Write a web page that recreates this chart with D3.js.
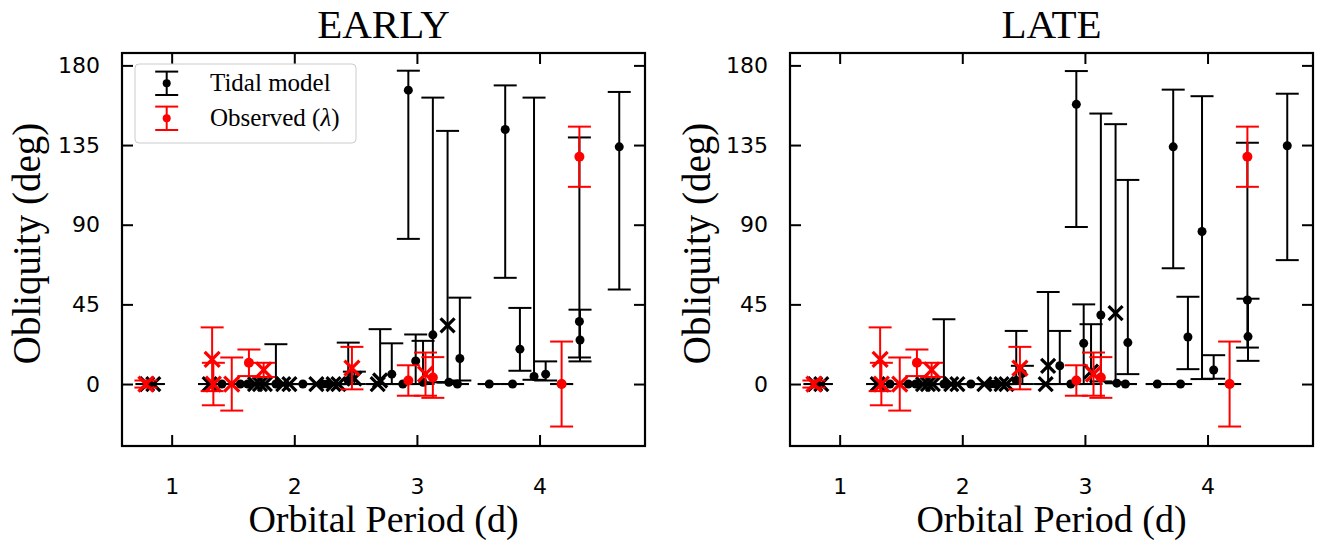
<!DOCTYPE html>
<html>
<head>
<meta charset="utf-8">
<script src="https://cdn.jsdelivr.net/npm/d3@7"></script>
<style>
  body { margin: 0; background: #fff; }
  .tick text { font-family: "DejaVu Sans", sans-serif; font-size: 22px; fill: #000; }
</style>
</head>
<body>
<svg width="1317" height="540"></svg>
<script>
// tidal model systems (orbital period in days), shared by both panels
var periods = [0.80, 0.85, 1.31, 1.41, 1.56, 1.62, 1.68, 1.72, 1.76, 1.85, 1.91, 1.96, 2.07, 2.18, 2.23, 2.27,
  2.32, 2.36, 2.44, 2.49, 2.68, 2.70, 2.795, 2.885, 2.93, 2.99, 3.05, 3.13, 3.25, 3.26, 3.33, 3.35, 3.59,
  3.72, 3.78, 3.84, 3.955, 4.05, 4.18, 4.325, 4.33, 4.65]

// EARLY panel: value, lower bound, upper bound, marker
var earlyVal = [0, 0, 0, 0, 0, 0, 0, 0, 0, 0, 0, 0, 0, 0, 0, 0, 0, 0, 2, 3, 0, 2, 5.6, 0, 166, 13, 1, 27.8, 33.2, 1, 0, 14.4, 0,
  143.8, 0, 19.7, 4.3, 5.6, 0, 35.3, 24.9, 134]
var earlyLo = [0, 0, 0, 0, 0, 0, 0, 0, 0, 0, 0, 0, 0, 0, 0, 0, 0, 0, 0, 0, 0, 0, 0, 0, 82, 0, 0, 1, 1, 1, 0, 2, 0,
  60, 0, 7.5, 2.4, 2, 0, 15, 12.8, 53.4]
var earlyHi = [0, 0, 0, 0, 0, 0, 0, 0, 0, 22.5, 0, 0, 0, 0, 0, 0, 0, 0, 23.4, 7, 0, 31, 23, 0, 177, 28, 24.4, 161.8, 143, 1, 0, 48.8, 0,
  168.7, 0, 43, 161.8, 12.8, 0, 139.3, 42, 165]
var earlyMark = ["x", "x", "x", "o", "o", "o", "x", "x", "x", "o", "x", "x", "o", "x", "o", "o", "x", "x", "o", "x", "x", "x", "o", "o",
  "o", "o", "o", "o", "x", "o", "o", "o", "o", "o", "o", "o", "o", "o", "o", "o", "o", "o"]

// LATE panel
var lateVal = [0, 0, 0, 0, 0, 0, 0, 0, 0, 0, 0, 0, 0, 0, 0, 0, 0, 0, 2, 6, 0, 10.3, 10.3, 0, 158, 23, 7, 39, 40, 0.5, 0, 23.4, 0,
  134, 0, 26.6, 86.2, 7.9, 0, 47.5, 26.8, 134.6]
var lateLo = [0, 0, 0, 0, 0, 0, 0, 0, 0, 0, 0, 0, 0, 0, 0, 0, 0, 0, 0, 0, 0, 0, 0, 0, 88.7, 0, 0, 1.5, 1, 0.5, 0, 5.6, 0,
  65.4, 0, 8.4, 2.8, 3, 0, 20.6, 13.1, 70]
var lateHi = [0, 0, 0, 0, 0, 0, 0, 0, 0, 36.6, 0, 0, 0, 0, 0, 0, 0, 0, 30, 10.3, 0, 52, 30, 0, 176.8, 45, 33.8, 152.8, 146.8, 0.5, 0, 115.3, 0,
  166.3, 0, 49.3, 162.6, 16.3, 0, 136.3, 48.2, 164]
var lateMark = ["x", "x", "x", "o", "o", "o", "x", "x", "x", "o", "x", "x", "o", "x", "o", "o", "x", "x", "o", "o", "x", "x", "o", "o",
  "o", "o", "x", "o", "x", "o", "o", "o", "o", "o", "o", "o", "o", "o", "o", "o", "o", "o"]

// observed projected obliquities (lambda), same in both panels
var obsPeriod = [0.79, 1.33, 1.34, 1.49, 1.63, 1.75, 2.47, 2.93, 3.07, 3.13, 4.18, 4.325]
var obsLambda = [0, 14, 0, 0, 12, 8, 9, 2, 5.6, 3.7, 0, 128.4]
var obsErr = [2, 18, 12, 15, 7.5, 4, 12, 8.6, 12.2, 11.5, 24, 17]
var obsMark = ["x", "x", "x", "x", "o", "x", "x", "o", "x", "o", "o", "o"]

var xTicks = [1, 2, 3, 4]
var yTicks = [0, 45, 90, 135, 180]

var W = 523, H = 393
var svg = d3.select("svg")

var x = d3.scaleLinear().domain([0.595, 4.86]).range([0, W])
var y = d3.scaleLinear().domain([-35, 187]).range([H, 0])

var capW = 11.5

// one errorbar + marker
function errbar(g, px, v, lo, hi, mk, color, mr) {
  var cx = x(px)
  g.append("line").attr("x1", cx).attr("x2", cx).attr("y1", y(lo)).attr("y2", y(hi))
    .attr("stroke", color).attr("stroke-width", 2)
  ;[lo, hi].forEach(function (b) {
    g.append("line").attr("x1", cx - capW).attr("x2", cx + capW).attr("y1", y(b)).attr("y2", y(b))
      .attr("stroke", color).attr("stroke-width", 2)
  })
  if (mk == "o") {
    g.append("circle").attr("cx", cx).attr("cy", y(v)).attr("r", mr).attr("fill", color)
  } else {
    var s = mr + 2.5
    g.append("path")
      .attr("d", "M" + (cx - s) + "," + (y(v) - s) + "L" + (cx + s) + "," + (y(v) + s) +
        "M" + (cx - s) + "," + (y(v) + s) + "L" + (cx + s) + "," + (y(v) - s))
      .attr("stroke", color).attr("stroke-width", 3.2).attr("fill", "none")
  }
}

function drawPanel(left, ylabX, title, val, lo, hi, mk, legend) {
  var g = svg.append("g").attr("transform", "translate(" + left + ",53)")

  // black tidal model first, red observations on top
  periods.forEach(function (p, i) { errbar(g, p, val[i], lo[i], hi[i], mk[i], "#000", 4.5) })
  obsPeriod.forEach(function (p, i) {
    errbar(g, p, obsLambda[i], obsLambda[i] - obsErr[i], obsLambda[i] + obsErr[i], obsMark[i], "#ff0000", 5)
  })

  // axes with inward ticks on all four sides
  var ax = [
    d3.axisBottom(x).tickValues(xTicks).tickSize(-11).tickPadding(32).tickFormat(d3.format("d")),
    d3.axisTop(x).tickValues(xTicks).tickSize(-11).tickFormat(""),
    d3.axisLeft(y).tickValues(yTicks).tickSize(-11).tickPadding(22),
    d3.axisRight(y).tickValues(yTicks).tickSize(-11).tickFormat("")
  ]
  var pos = ["translate(0," + H + ")", "translate(0,0)", "translate(0,0)", "translate(" + W + ",0)"]
  ax.forEach(function (a, i) {
    var ag = g.append("g").attr("transform", pos[i]).call(a)
    ag.select(".domain").remove()
    ag.selectAll(".tick line").attr("stroke", "#000").attr("stroke-width", 2)
  })

  g.append("rect").attr("width", W).attr("height", H).attr("fill", "none")
    .attr("stroke", "#000").attr("stroke-width", 2.2)

  g.append("text").attr("x", W / 2).attr("y", -15).attr("text-anchor", "middle")
    .style("font-family", "Liberation Serif, serif").style("font-size", "41px").text(title)

  g.append("text").attr("x", W / 2).attr("y", H + 86).attr("text-anchor", "middle")
    .style("font-family", "Liberation Serif, serif").style("font-size", "38px").text("Orbital Period (d)")

  g.append("text").attr("transform", "translate(" + (ylabX - left) + "," + (H / 2 - 6) + ") rotate(-90)")
    .attr("text-anchor", "middle")
    .style("font-family", "Liberation Serif, serif").style("font-size", "39px").text("Obliquity (deg)")

  if (legend) {
    var lg = g.append("g").attr("transform", "translate(13,11)")
    lg.append("rect").attr("width", 221).attr("height", 79).attr("rx", 4)
      .attr("fill", "#fff").attr("fill-opacity", 0.8).attr("stroke", "#ccc").attr("stroke-width", 1)
    var items = [{ c: "#000", t: "Tidal model", yy: 19.3 }, { c: "#ff0000", t: "Observed (", yy: 54.3 }]
    items.forEach(function (it, i) {
      var cx = 31.7
      lg.append("line").attr("x1", cx).attr("x2", cx).attr("y1", it.yy - 11.7).attr("y2", it.yy + 11.7)
        .attr("stroke", it.c).attr("stroke-width", 2)
      ;[-11.7, 11.7].forEach(function (d) {
        lg.append("line").attr("x1", cx - capW).attr("x2", cx + capW).attr("y1", it.yy + d).attr("y2", it.yy + d)
          .attr("stroke", it.c).attr("stroke-width", 2)
      })
      lg.append("circle").attr("cx", cx).attr("cy", it.yy).attr("r", 4).attr("fill", it.c)
      var t = lg.append("text").attr("x", 75).attr("y", it.yy + 8)
        .style("font-family", "Liberation Serif, serif").style("font-size", "25px").text(it.t)
      if (i == 1) {
        t.append("tspan").style("font-style", "italic").text("λ")
        t.append("tspan").text(")")
      }
    })
  }
}

drawPanel(122, 40, "EARLY", earlyVal, earlyLo, earlyHi, earlyMark, true)
drawPanel(790, 710, "LATE", lateVal, lateLo, lateHi, lateMark, false)
</script>
</body>
</html>
